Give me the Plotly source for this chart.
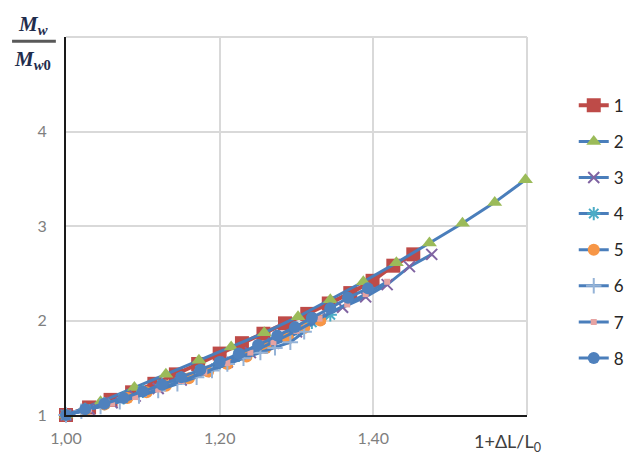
import plotly.graph_objects as go

# ---- data ----
names = ["1", "2", "3", "4", "5", "6", "7", "8"]

x1 = [1.0, 1.03, 1.058, 1.086, 1.115, 1.143, 1.172, 1.20, 1.229, 1.257, 1.285, 1.314, 1.342, 1.370, 1.399, 1.426, 1.452]
y1 = [1.0, 1.08, 1.16, 1.24, 1.33, 1.43, 1.54, 1.65, 1.76, 1.86, 1.97, 2.07, 2.18, 2.29, 2.42, 2.58, 2.70]

x2 = [1.0, 1.045, 1.089, 1.130, 1.173, 1.215, 1.258, 1.302, 1.344, 1.387, 1.430, 1.473, 1.516, 1.558, 1.598]
y2 = [1.0, 1.14, 1.29, 1.43, 1.58, 1.72, 1.87, 2.04, 2.22, 2.41, 2.61, 2.82, 3.03, 3.25, 3.49]

x3 = [1.0, 1.03, 1.06, 1.09, 1.12, 1.15, 1.18, 1.21, 1.24, 1.27, 1.30, 1.33, 1.36, 1.39, 1.418, 1.447, 1.476]
y3 = [1.0, 1.06, 1.13, 1.20, 1.28, 1.37, 1.46, 1.56, 1.66, 1.76, 1.88, 2.02, 2.14, 2.25, 2.38, 2.57, 2.70]

x4 = [1.0, 1.025, 1.05, 1.075, 1.10, 1.125, 1.15, 1.175, 1.20, 1.225, 1.25, 1.275, 1.30, 1.32, 1.344]
y4 = [1.0, 1.06, 1.12, 1.18, 1.25, 1.32, 1.39, 1.47, 1.55, 1.63, 1.72, 1.82, 1.91, 1.98, 2.06]

x5 = [1.0, 1.025, 1.05, 1.08, 1.105, 1.13, 1.16, 1.185, 1.21, 1.235, 1.26, 1.289, 1.31, 1.331]
y5 = [1.0, 1.05, 1.11, 1.18, 1.24, 1.31, 1.39, 1.46, 1.54, 1.62, 1.71, 1.81, 1.92, 2.00]

x6 = [1.0, 1.02, 1.045, 1.07, 1.095, 1.12, 1.145, 1.17, 1.19, 1.21, 1.231, 1.253, 1.272, 1.292, 1.31]
y6 = [1.0, 1.04, 1.09, 1.14, 1.20, 1.26, 1.33, 1.40, 1.47, 1.54, 1.60, 1.66, 1.71, 1.77, 1.88]

x7 = [1.0, 1.03, 1.06, 1.09, 1.12, 1.15, 1.18, 1.21, 1.24, 1.27, 1.30, 1.33, 1.366, 1.39, 1.418]
y7 = [1.0, 1.06, 1.12, 1.19, 1.27, 1.36, 1.45, 1.55, 1.66, 1.77, 1.89, 2.02, 2.17, 2.28, 2.41]

x8 = [1.0, 1.025, 1.05, 1.075, 1.10, 1.125, 1.15, 1.175, 1.20, 1.225, 1.25, 1.275, 1.298, 1.32, 1.344, 1.367, 1.393]
y8 = [1.0, 1.06, 1.12, 1.18, 1.25, 1.32, 1.40, 1.48, 1.56, 1.65, 1.74, 1.84, 1.93, 2.03, 2.13, 2.24, 2.34]

x_tickvals = [1.0, 1.2, 1.4]
x_ticktext = ["1,00", "1,20", "1,40"]
y_tickvals = [1, 2, 3, 4]
y_ticktext = ["1", "2", "3", "4"]

# ---- styles ----
BLUE = "#4A7EBB"
styles = [
    dict(line=dict(color="#BE4B48", width=4), marker=dict(symbol="square", size=14, color="#BE4B48")),
    dict(line=dict(color=BLUE, width=3), marker=dict(symbol="triangle-up", size=13, color="#9BBB59")),
    dict(line=dict(color=BLUE, width=3), marker=dict(symbol="x-thin", size=11, color="#8064A2", line=dict(width=2, color="#8064A2"))),
    dict(line=dict(color=BLUE, width=3), marker=dict(symbol="asterisk", size=11, color="#4BACC6", line=dict(width=2, color="#4BACC6"))),
    dict(line=dict(color=BLUE, width=3), marker=dict(symbol="circle", size=12, color="#F79646")),
    dict(line=dict(color=BLUE, width=3), marker=dict(symbol="cross-thin", size=11, color="#95B3D7", line=dict(width=2, color="#95B3D7"))),
    dict(line=dict(color=BLUE, width=3), marker=dict(symbol="square", size=6, color="#E6A3A2")),
    dict(line=dict(color=BLUE, width=3), marker=dict(symbol="circle", size=12, color="#4F81BD")),
]

xs = [x1, x2, x3, x4, x5, x6, x7, x8]
ys = [y1, y2, y3, y4, y5, y6, y7, y8]

fig = go.Figure()
for i in range(8):
    fig.add_trace(go.Scatter(
        x=xs[i], y=ys[i], name=names[i], mode="lines+markers",
        legendgroup=names[i], cliponaxis=False, **styles[i]))

fig.update_layout(
    width=625, height=457,
    margin=dict(l=66, r=98, t=37, b=42, autoexpand=False),
    paper_bgcolor="white", plot_bgcolor="white",
    font=dict(family="Lato, Liberation Sans, sans-serif", color="#595959"),
    showlegend=True,
    legend=dict(xref="container", yref="container", x=0.918, y=0.808,
                xanchor="left", yanchor="top", maxheight=420,
                font=dict(size=17, color="#262626"),
                tracegroupgap=11, itemwidth=30, bgcolor="rgba(0,0,0,0)"),
    xaxis=dict(range=[1.0, 1.6], tickvals=x_tickvals, ticktext=x_ticktext,
               showgrid=True, gridcolor="#D9D9D9", gridwidth=2,
               showline=True, linecolor="#1a1a1a", linewidth=2,
               zeroline=False, ticks="", ticklabelstandoff=8,
               tickfont=dict(size=16, color="#7F7F7F")),
    yaxis=dict(range=[1, 5], tickvals=y_tickvals, ticktext=y_ticktext,
               showgrid=True, gridcolor="#D9D9D9", gridwidth=2,
               showline=True, linecolor="#1a1a1a", linewidth=2,
               zeroline=False, ticks="", ticklabelstandoff=14,
               tickfont=dict(size=16, color="#7F7F7F")),
)

# edge gridlines (top and right) of the plot area
fig.add_shape(type="line", xref="paper", yref="paper", x0=0, x1=1, y0=1, y1=1,
              line=dict(color="#D9D9D9", width=2), layer="below")
fig.add_shape(type="line", xref="paper", yref="paper", x0=1, x1=1, y0=0, y1=1,
              line=dict(color="#D9D9D9", width=2), layer="below")

# axis titles
serif = "Liberation Serif, DejaVu Serif, serif"
navy = "#1F2D4D"
fig.add_annotation(xref="paper", yref="paper", x=-0.072, y=1.032,
                   xanchor="center", yanchor="middle",
                   text="<b><i>M</i></b><sub><b><i>w</i></b></sub>", showarrow=False,
                   font=dict(family=serif, size=21, color=navy))
fig.add_annotation(xref="paper", yref="paper", x=-0.072, y=0.94,
                   xanchor="center", yanchor="middle",
                   text="<b><i>M</i></b><sub><b><i>w</i>0</b></sub>", showarrow=False,
                   font=dict(family=serif, size=21, color=navy))
fig.add_shape(type="line", xref="paper", yref="paper", x0=-0.117, x1=-0.022,
              y0=0.989, y1=0.989, line=dict(color="#595959", width=3))
fig.add_annotation(xref="paper", yref="paper", x=0.957, y=-0.074,
                   xanchor="center", yanchor="middle",
                   text="1+ΔL/L<sub>0</sub>", showarrow=False,
                   font=dict(size=18, color="#404040"))

fig.write_html("out.html")
